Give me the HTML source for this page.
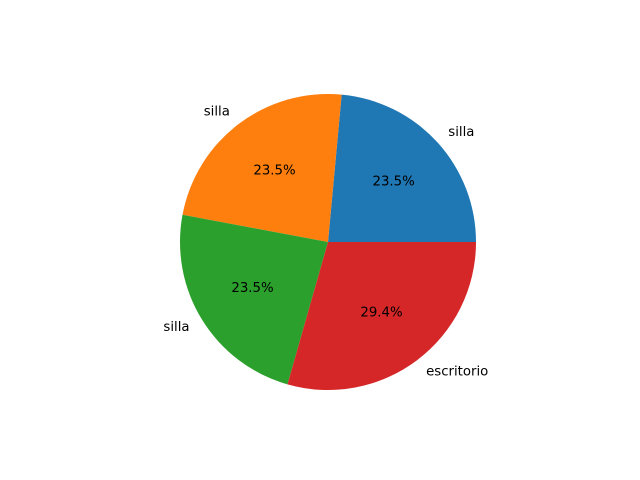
<!DOCTYPE html>
<html>
<head>
<meta charset="utf-8">
<style>
  html, body { margin: 0; padding: 0; background: #fff; }
  svg { display: block; }
  text { font-family: "DejaVu Sans", "Liberation Sans", sans-serif; font-size: 13.3px; fill: #000; }
</style>
</head>
<body>
<svg id="chart" width="640" height="480" viewBox="0 0 640 480">
  <rect width="640" height="480" fill="#fff"></rect>
  <g id="slices"></g>
  <g id="labels"></g>
</svg>
<script>
const categories = ["silla", "silla", "silla", "escritorio"];
const values = [4, 4, 4, 5];
const colors = ["#1f77b4", "#ff7f0e", "#2ca02c", "#d62728"];

const cx = 328, cy = 242, R = 148;
const NS = "http://www.w3.org/2000/svg";
const slicesG = document.getElementById('slices');
const labelsG = document.getElementById('labels');
const total = values.reduce((a, b) => a + b, 0);
let start = 0;
function pt(angDeg, r) {
  const a = angDeg * Math.PI / 180;
  return [cx + r * Math.cos(a), cy - r * Math.sin(a)];
}
values.forEach((v, i) => {
  const sweep = v / total * 360;
  const end = start + sweep;
  const [x1, y1] = pt(start, R);
  const [x2, y2] = pt(end, R);
  const large = sweep > 180 ? 1 : 0;
  const p = document.createElementNS(NS, 'path');
  p.setAttribute('d', `M${cx},${cy} L${x1},${y1} A${R},${R} 0 ${large} 0 ${x2},${y2} Z`);
  p.setAttribute('fill', colors[i]);
  
  
  slicesG.appendChild(p);

  const mid = start + sweep / 2;
  const [lx, ly] = pt(mid, R * 1.1);
  const t = document.createElementNS(NS, 'text');
  t.setAttribute('x', lx);
  t.setAttribute('y', ly);
  t.setAttribute('dominant-baseline', 'central');
  t.setAttribute('text-anchor', Math.cos(mid * Math.PI / 180) >= 0 ? 'start' : 'end');
  t.textContent = categories[i];
  
  
  labelsG.appendChild(t);

  const [px, py] = pt(mid, R * 0.6);
  const pc = document.createElementNS(NS, 'text');
  pc.setAttribute('x', px);
  pc.setAttribute('y', py);
  pc.setAttribute('dominant-baseline', 'central');
  pc.setAttribute('text-anchor', 'middle');
  pc.textContent = (v / total * 100).toFixed(1) + '%';
  
  
  labelsG.appendChild(pc);

  start = end;
});
</script>
</body>
</html>
